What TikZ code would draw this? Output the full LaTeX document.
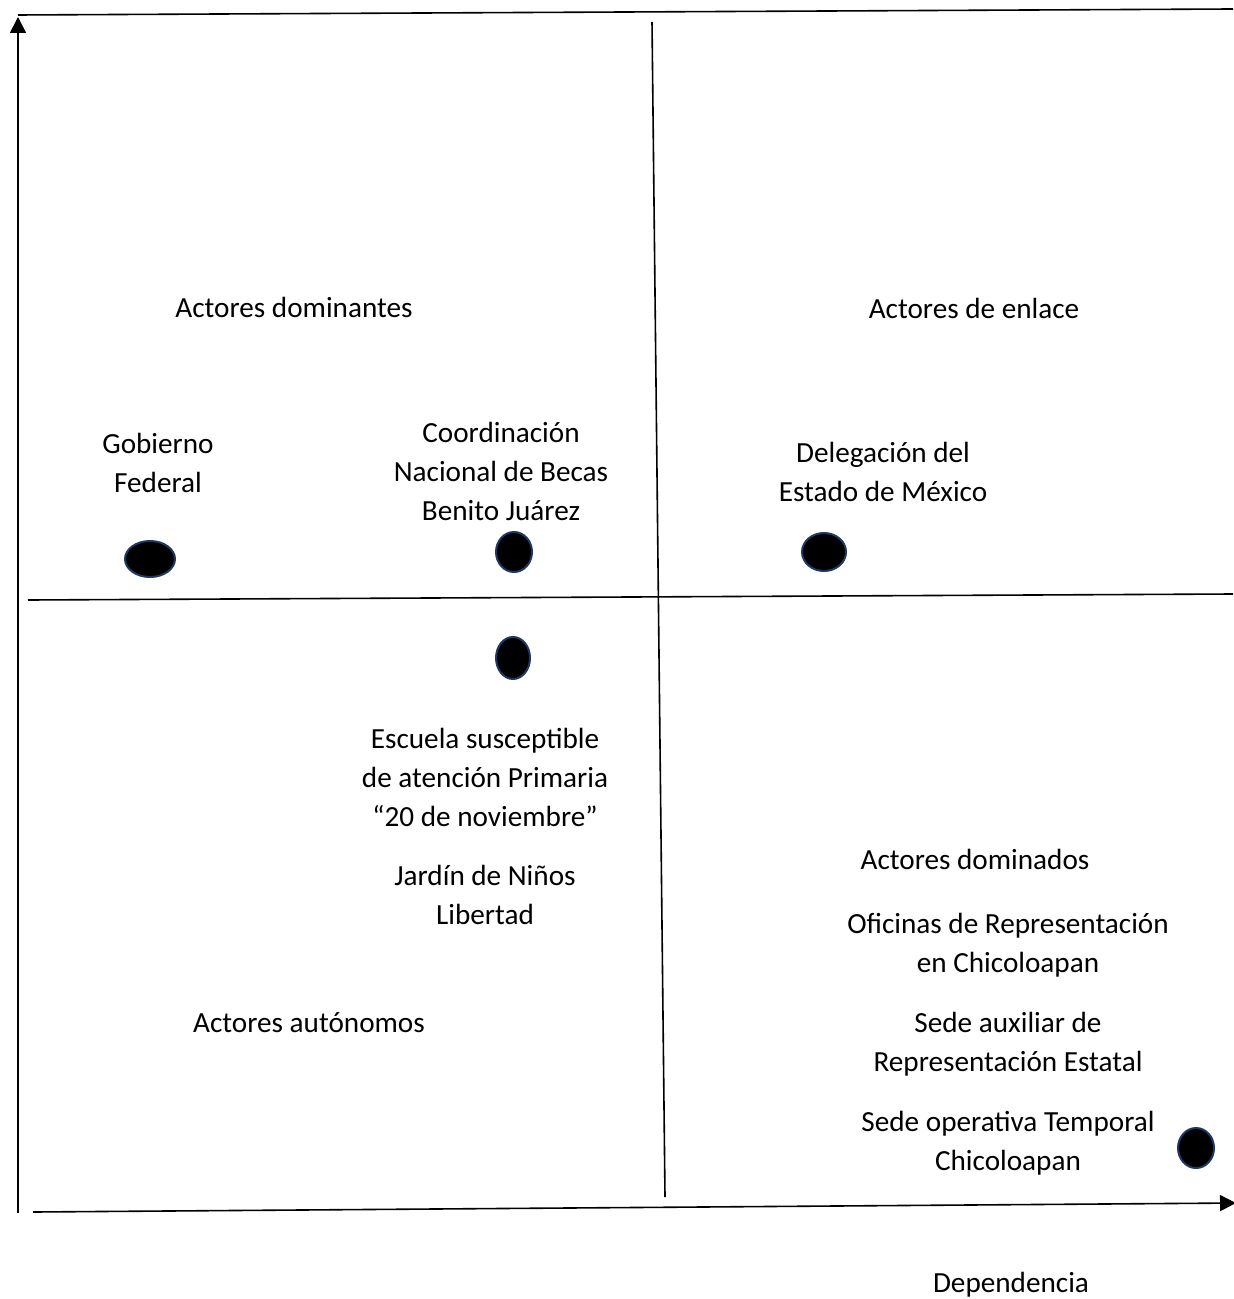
\documentclass[tikz,border=0pt]{standalone}
\usepackage{fontspec}
\setmainfont{Carlito}
\usetikzlibrary{arrows.meta,shapes.geometric}

\definecolor{dotblue}{HTML}{1F3864}
\tikzset{
  actor/.style={align=center, font=\fontsize{14.6}{19.5}\selectfont, inner sep=0pt},
  dot/.style={ellipse, fill=black, draw=dotblue, line width=1pt, inner sep=0pt},
  axis/.style={line width=0.8pt, -{Triangle[length=8pt,width=8pt]}},
  rule/.style={line width=0.8pt}
}

\begin{document}
\begin{tikzpicture}[x=0.5pt,y=-0.5pt]
\useasboundingbox (0,0) rectangle (1233,1299);
% axes and frame
\coordinate (origin) at (18,1213);
\coordinate (ytip) at (18,17);
\coordinate (xstart) at (33,1212);
\coordinate (xtip) at (1236,1203);
\draw [axis] (origin) -- (ytip);
\draw [axis] (xstart) -- (xtip);
\draw [rule] (18,15) -- (1233,9);
\draw [rule] (652,22) -- (665,1197);
\draw [rule] (28,600) -- (1233,594);
% quadrant titles
\node [actor] (dominantes) at (294,307) {Actores dominantes};
\node [actor] (enlace) at (974,308) {Actores de enlace};
\node [actor] (autonomos) at (309,1023) {Actores autónomos};
\node [actor] (dominados) at (975,859) {Actores dominados};
% actors
\node [actor] (gobierno) at (158,463) {Gobierno\\Federal};
\node [actor] (coordinacion) at (501,471) {Coordinación\\Nacional de Becas\\Benito Juárez};
\node [actor] (delegacion) at (883,472) {Delegación del\\Estado de México};
\node [actor] (escuela) at (485,777) {Escuela susceptible\\de atención Primaria\\“20 de noviembre”};
\node [actor] (jardin) at (485,895) {Jardín de Niños\\Libertad};
\node [actor] (oficinas) at (1008,945) {Oficinas de Representación\\en Chicoloapan};
\node [actor] (auxiliar) at (1008,1044) {Sede auxiliar de\\Representación Estatal};
\node [actor] (operativa) at (1008,1143) {Sede operativa Temporal\\Chicoloapan};
\node [actor] (dependencia) at (1011,1285) {Dependencia};
% dots
\node [dot, minimum width=25pt, minimum height=18pt] (dgobierno) at (150,559) {};
\node [dot, minimum width=18pt, minimum height=20pt] (dcoordinacion) at (514,552) {};
\node [dot, minimum width=22pt, minimum height=19pt] (ddelegacion) at (824,552) {};
\node [dot, minimum width=17pt, minimum height=21pt] (descuela) at (513,658) {};
\node [dot, minimum width=18pt, minimum height=20pt] (doperativa) at (1196,1148) {};
\end{tikzpicture}
\end{document}
